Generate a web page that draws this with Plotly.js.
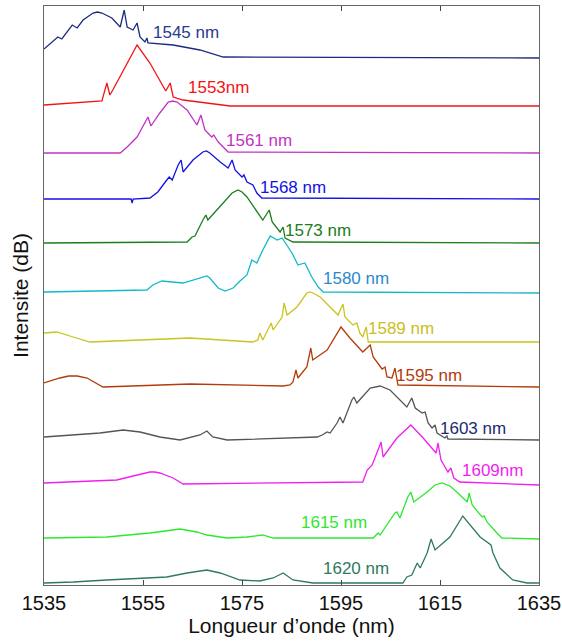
<!DOCTYPE html>
<html>
<head>
<meta charset="utf-8">
<script src="https://cdn.plot.ly/plotly-3.0.1.min.js"></script>
<style>html,body{margin:0;padding:0;background:#fff;}#chart{width:562px;height:641px;}</style>
</head>
<body>
<div id="chart"></div>
<script>
// Spectra: wavelength (nm) and intensity above own baseline (arbitrary dB units)
const wl1 = [1535,1537.8,1538.6,1540.7,1541.7,1542.9,1544.9,1545.8,1546.7,1548.7,1550.4,1551.2,1551.8,1553.0,1553.8,1554.4,1555.4,1555.8,1556.0,1561.1,1566.5,1571.2,1635];
const in1 = [9,21,19,33,30,38,45,46,45,40,31,48,31,28,35,21,16,20,15,13,8,1,0];

const wl2 = [1535,1546.7,1547.7,1548.3,1548.9,1553.8,1556.4,1559.0,1559.6,1560.5,1561.1,1563.1,1567.9,1572.6,1635];
const in2 = [1,5,23,11,16,61,43,19,15,23,9,6,3,0,0];

const wl3 = [1535,1550.4,1551.8,1553.8,1556.0,1556.6,1558.4,1560.1,1561.0,1561.9,1563.9,1565.9,1566.7,1567.5,1568.9,1569.3,1570.2,1571.2,1572.2,1635];
const in3 = [0,0,6,16,36,27,40,51,52,51,43,28,38,23,16,18,11,6,1,0];

const wl4 = [1535,1552.6,1552.8,1553.0,1556.4,1558.0,1559.8,1560.3,1560.9,1562.1,1562.7,1563.1,1565.1,1567.1,1567.8,1568.5,1570.6,1572.2,1573.0,1573.6,1575.0,1575.4,1576.0,1577.2,1578.0,1579.0,1635];
const in4 = [0,0,-4,0,1,7,19,22,19,34,39,27,39,47,48,46,37,31,39,29,22,24,17,14,6,1,0];

const wl5 = [1535,1563.9,1564.9,1565.5,1567.1,1567.7,1568.1,1571.2,1573.0,1574.2,1575.0,1576.0,1579.2,1580.5,1581.1,1582.7,1583.3,1583.7,1585.3,1635];
const in5 = [0,1,6,7,23,28,23,40,50,53,51,46,23,33,21,11,16,5,1,0];

const wl6 = [1535,1555.8,1557.0,1558.8,1563.1,1567.9,1568.5,1570.2,1571.6,1573.2,1574.6,1576.0,1577.0,1578.0,1579.2,1580.7,1582.1,1583.1,1585.1,1586.3,1587.7,1589.1,1590.4,1591.4,1635];
const in6 = [1,3,8,12,10,17,15,5,2,5,12,18,33,30,43,57,53,55,40,28,30,16,6,1,0];

const wl7 = [1535,1537.6,1540.9,1544.3,1564.5,1577.2,1578.2,1578.6,1579.2,1580.3,1580.9,1581.3,1583.1,1583.5,1584.1,1586.1,1588.1,1588.7,1589.3,1590.8,1592.8,1594.4,1595.4,1595.8,1597.4,1598.2,1598.8,1599.4,1600.1,1600.5,1635];
const in7 = [9,10,5,0,4,0,2,9,2,14,19,12,25,39,27,35,49,50,49,45,35,27,38,25,17,19,9,5,15,0,0];

const wl8 = [1535,1538.2,1540.0,1541.7,1543.7,1546.9,1564.5,1583.3,1584.7,1585.3,1585.9,1586.3,1588.1,1588.9,1589.3,1592.2,1595.0,1596.8,1599.4,1600.9,1601.5,1603.3,1603.9,1604.3,1605.3,1605.9,1606.5,1635];
const in8 = [4,9,11,11,9,0,3,1,2,5,17,9,20,39,27,37,60,49,35,42,30,18,20,10,9,19,2,0];

const wl9 = [1535,1540.9,1546.3,1551.0,1554.4,1558.4,1562.5,1566.5,1567.9,1569.1,1572.0,1590.2,1591.2,1592.2,1592.8,1594.2,1594.8,1595.4,1597.2,1597.6,1598.2,1600.9,1602.9,1604.9,1608.3,1609.3,1610.0,1611.4,1612.0,1612.6,1613.4,1614.0,1614.4,1616.0,1616.4,1616.6,1635];
const in9 = [3,5,7,10,8,3,0,5,9,3,0,3,5,8,7,17,23,17,40,43,37,52,54,50,33,42,32,27,28,17,12,15,7,2,4,1,0];

const wl10 = [1535,1549.7,1553.0,1556.4,1557.4,1558.4,1561.1,1563.1,1599.4,1600.3,1601.3,1602.5,1603.1,1603.5,1606.3,1609.1,1611.6,1614.2,1614.6,1615.2,1616.6,1617.2,1617.8,1619.0,1635];
const in10 = [2,5,9,13,13,12,7,1,3,15,20,35,43,28,47,60,47,32,42,25,13,17,7,3,0];

const wl11 = [1535,1547.7,1556.4,1562.5,1565.9,1567.9,1572.0,1576.0,1579.2,1581.3,1601.5,1602.5,1602.9,1604.3,1605.9,1606.3,1606.9,1608.5,1609.1,1609.7,1612.4,1614.0,1615.4,1617.0,1618.4,1620.5,1620.9,1621.5,1623.5,1623.9,1624.5,1626.5,1627.5,1635];
const in11 = [1,2,6,10,7,4,1,2,4,1,1,6,4,14,26,27,21,42,47,37,47,54,56,53,47,37,46,34,22,23,17,6,1,0];

const wl12 = [1535,1540.9,1547.7,1554.4,1559.8,1563.9,1567.9,1570.6,1574.6,1578.6,1581.3,1583.3,1585.3,1589.3,1607.5,1608.3,1609.3,1610.4,1611.0,1612.4,1613.2,1614.0,1617.0,1619.6,1623.1,1625.3,1625.7,1627.1,1628.5,1629.7,1632.6,1635];
const in12 = [0,1,3,5,6,10,13,10,3,2,5,10,3,0,0,6,8,20,15,30,44,33,46,67,46,38,30,15,8,3,0,0];

const offsets = [527,479,432,386,342,292,243,198,145,100,46,2];
const labels = ['1545 nm','1553nm','1561 nm','1568 nm','1573 nm','1580 nm','1589 nm','1595 nm','1603 nm','1609nm','1615 nm','1620 nm'];
const lineColors = ['#1d2b7d','#f21414','#c233c4','#1212e6','#1c7d1c','#14b9c9','#c9c51c','#b23c0a','#555555','#f01ef0','#2ee82e','#2f7a5c'];
const labelColors = ['#2a3a8c','#f21414','#c233c4','#1212e6','#1c7d1c','#2a8acb','#c9c01c','#b23c0a','#1d2b6d','#f01ef0','#2ee82e','#2f7a5c'];
const labelX = [1563.7,1570.2,1578.4,1585.3,1590.4,1598.0,1607.1,1612.8,1621.7,1625.7,1593.6,1598.0];
const labelY = [553,498,445,398,355,307,257,210,157,115,63,17];

const wls = [wl1,wl2,wl3,wl4,wl5,wl6,wl7,wl8,wl9,wl10,wl11,wl12];
const ins = [in1,in2,in3,in4,in5,in6,in7,in8,in9,in10,in11,in12];

const traces = wls.map((w,i)=>({
  x: w, y: ins[i].map(v=>v+offsets[i]), type:'scatter', mode:'lines',
  line:{color:lineColors[i], width:1.3}, hoverinfo:'skip', showlegend:false
}));

const annotations = labels.map((t,i)=>({
  x: labelX[i], y: labelY[i], xref:'x', yref:'y', text:t, showarrow:false,
  font:{family:'Liberation Sans, Arial, sans-serif', size:17, color:labelColors[i]},
  xanchor:'center', yanchor:'middle'
}));

const layout = {
  width:562, height:641,
  margin:{l:44, r:23, t:6, b:56},
  paper_bgcolor:'#fff', plot_bgcolor:'#fff',
  font:{family:'Liberation Sans, Arial, sans-serif', color:'#111'},
  xaxis:{
    range:[1535,1635], tickvals:[1535,1555,1575,1595,1615,1635],
    ticks:'inside', ticklen:5, tickcolor:'#444', mirror:'ticks', showline:true, linecolor:'#666', linewidth:1,
    showgrid:false, zeroline:false, tickfont:{size:20, color:'#111'},
    title:{text:'Longueur d\u2019onde (nm)', font:{size:21, color:'#111'}, standoff:4}
  },
  yaxis:{
    range:[0,579], showticklabels:false, ticks:'', showline:true, mirror:true, linecolor:'#666', linewidth:1,
    showgrid:false, zeroline:false,
    title:{text:'Intensite (dB)', font:{size:21, color:'#111'}, standoff:8}
  },
  annotations: annotations
};

Plotly.newPlot('chart', traces, layout, {displayModeBar:false, staticPlot:true});
</script>
</body>
</html>
